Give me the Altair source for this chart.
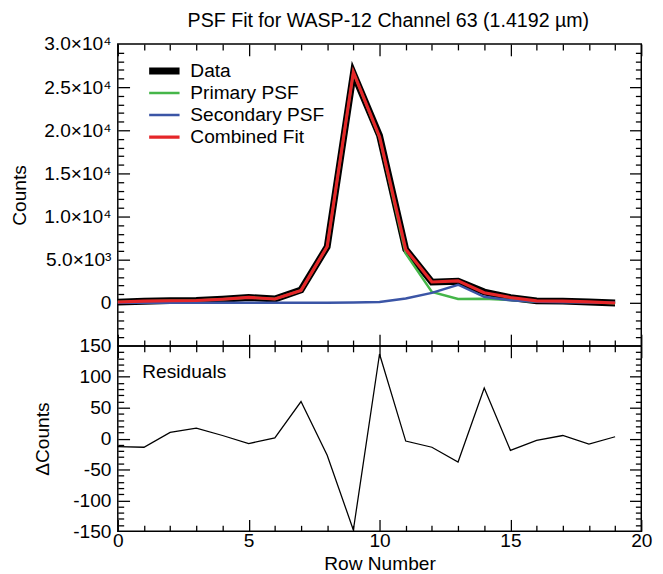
import altair as alt
import pandas as pd

# ---------------- data ----------------
rows = list(range(20))
data_counts = [80, 180, 250, 280, 420, 620, 450, 1500, 6500, 26600, 19400,
               6200, 2400, 2500, 1250, 600, 230, 200, 100, -20]
primary_psf = [93, 194, 240, 263, 415, 628, 444, 1430, 6507, 26718, 19163,
               5704, 1264, 438, 468, 319, 113, 135, 79, -43]
secondary_psf = [0, 0, 0, 0, 0, 0, 5, 10, 20, 30, 100,
                 500, 1150, 2100, 700, 300, 120, 60, 30, 20]
combined_fit = [93, 194, 240, 263, 415, 628, 449, 1440, 6527, 26748, 19263,
                6204, 2414, 2538, 1168, 619, 233, 195, 109, -23]
residuals = [-13, -14, 10, 17, 5, -8, 1, 60, -27, -148, 137,
             -4, -14, -38, 82, -19, -3, 5, -9, 3]

series_names = ["Data", "Primary PSF", "Secondary PSF", "Combined Fit"]
series_colors = ["#000000", "#45b649", "#3b55a6", "#e52629"]
series_widths = [7, 2.5, 2.5, 3.2]

title_text = "PSF Fit for WASP-12 Channel 63 (1.4192 µm)"
x_title = "Row Number"
y_title_top = "Counts"
y_title_bottom = "ΔCounts"
residual_label = "Residuals"

x_major = [0, 5, 10, 15, 20]
x_minor = [v for v in range(0, 21) if v % 5]
count_major = [0, 5000, 10000, 15000, 20000, 25000, 30000]
count_labels = ["0", "5.0×10³", "1.0×10⁴", "1.5×10⁴", "2.0×10⁴", "2.5×10⁴", "3.0×10⁴"]
count_inner = [0, 5000, 10000, 15000, 20000, 25000]
count_minor = [v for v in range(-4000, 30000, 1000) if v % 5000]
resid_major = [-150, -100, -50, 0, 50, 100, 150]
resid_inner = [-100, -50, 0, 50, 100]
resid_minor = [v for v in range(-140, 150, 10) if v % 50]

# ---------------- layout ----------------
W, H1, H2 = 534, 308, 189
FONT = "Liberation Sans"
FS = 19.5
MAJ, MIN = 12, 6

long = pd.DataFrame({
    "row": rows * 4,
    "value": data_counts + primary_psf + secondary_psf + combined_fit,
    "series": sum([[s] * len(rows) for s in series_names], []),
})
resid_df = pd.DataFrame({"row": rows, "resid": residuals})

xs = alt.Scale(domain=[0, 20], nice=False, zero=False)
ys1 = alt.Scale(domain=[-5000, 30000], nice=False, zero=False)
ys2 = alt.Scale(domain=[-150, 150], nice=False, zero=False)


def inward(orient, values, size, offset):
    return alt.Axis(orient=orient, values=values, tickSize=size, offset=offset,
                    labels=False, domain=False, grid=False, title=None,
                    ticks=True, tickColor="black", tickWidth=1.3)


count_expr = "".join(f"datum.value == {v} ? '{l}' : " for v, l in zip(count_major, count_labels)) + "''"

ylab_top = alt.Axis(orient="left", values=count_major, ticks=False, domain=False,
                    labelExpr=count_expr, labelPadding=7, labelOverlap=False,
                    title=y_title_top, titleX=-100.5, titleY=H1 / 2,
                    titleAngle=270, titleAlign="center", titleBaseline="middle")
ylab_bot = alt.Axis(orient="left", values=resid_major, ticks=False, domain=False,
                    labelExpr="'' + datum.value", labelPadding=7, labelOverlap=False,
                    title=y_title_bottom, titleX=-76.5, titleY=H2 / 2,
                    titleAngle=270, titleAlign="center", titleBaseline="middle")
xlab = alt.Axis(orient="bottom", values=x_major, ticks=False, domain=False,
                labelPadding=1, labelFlush=False, labelOverlap=False,
                title=x_title, titlePadding=4.5)

legend = alt.Legend(title=None, orient="none", legendX=28.5, legendY=18.5,
                    symbolType="stroke", symbolSize=961, clipHeight=18,
                    rowPadding=2.5, labelOffset=7.5, labelFontSize=FS,
                    labelFont=FONT, labelColor="black", padding=0)
color_enc = alt.Color("series:N", scale=alt.Scale(domain=series_names, range=series_colors),
                      legend=legend)
width_enc = alt.StrokeWidth("series:N",
                            scale=alt.Scale(type="ordinal", domain=series_names, range=series_widths),
                            legend=legend)

top_axes = [
    (inward("top", x_major, MAJ, -H1), ylab_top),
    (inward("top", x_minor, MIN, -H1), inward("right", count_inner, MAJ, -W)),
    (inward("bottom", x_major, MAJ, -H1), inward("right", count_minor, MIN, -W)),
    (inward("bottom", x_minor, MIN, -H1), inward("left", count_inner, MAJ, -W)),
]

top_layers = []
for s, (xa, ya) in zip(series_names, top_axes):
    top_layers.append(
        alt.Chart(long).transform_filter(alt.datum.series == s).mark_line().encode(
            x=alt.X("row:Q", scale=xs, axis=xa),
            y=alt.Y("value:Q", scale=ys1, axis=ya),
            color=color_enc,
            strokeWidth=width_enc,
        )
    )
top_layers.append(
    alt.Chart(long).mark_point(opacity=0).encode(
        x=alt.X("row:Q", scale=xs, axis=None),
        y=alt.Y("value:Q", scale=ys1, axis=inward("left", count_minor, MIN, -W)),
    )
)
top = alt.layer(*top_layers).properties(width=W, height=H1).resolve_axis(x="independent", y="independent")

bot_axes = [
    (inward("top", x_major, MAJ, -H2), inward("right", resid_inner, MAJ, -W)),
    (inward("top", x_minor, MIN, -H2), inward("right", resid_minor, MIN, -W)),
    (inward("bottom", x_major, MAJ, -H2), inward("left", resid_inner, MAJ, -W)),
    (inward("bottom", x_minor, MIN, -H2), inward("left", resid_minor, MIN, -W)),
]
bot_layers = [
    alt.Chart(resid_df).mark_line(color="black", strokeWidth=1.3).encode(
        x=alt.X("row:Q", scale=xs, axis=xlab),
        y=alt.Y("resid:Q", scale=ys2, axis=ylab_bot),
    )
]
for xa, ya in bot_axes:
    bot_layers.append(
        alt.Chart(resid_df).mark_point(opacity=0).encode(
            x=alt.X("row:Q", scale=xs, axis=xa),
            y=alt.Y("resid:Q", scale=ys2, axis=ya),
        )
    )
bot_layers.append(
    alt.Chart(pd.DataFrame({"t": [residual_label]})).mark_text(
        align="left", baseline="middle", fontSize=FS, font=FONT, color="black"
    ).encode(x=alt.value(25), y=alt.value(27), text="t:N")
)
bottom = alt.layer(*bot_layers).properties(width=W, height=H2).resolve_axis(x="independent", y="independent")

chart = alt.vconcat(top, bottom, spacing=0, bounds="flush").properties(
    title=alt.Title(title_text, fontSize=20, font=FONT, fontWeight="normal",
                    color="black", anchor="middle", frame="group", dx=9, offset=3),
    padding={"left": 0, "top": -3, "right": 2, "bottom": 0},
).configure_view(stroke="black", strokeWidth=1.5).configure_axis(
    grid=False, labelFont=FONT, labelFontSize=FS, labelColor="black",
    titleFont=FONT, titleFontSize=FS, titleFontWeight="normal", titleColor="black",
).configure_concat(spacing=0)

chart.save("out.html", embed_options={"renderer": "svg", "actions": False})
